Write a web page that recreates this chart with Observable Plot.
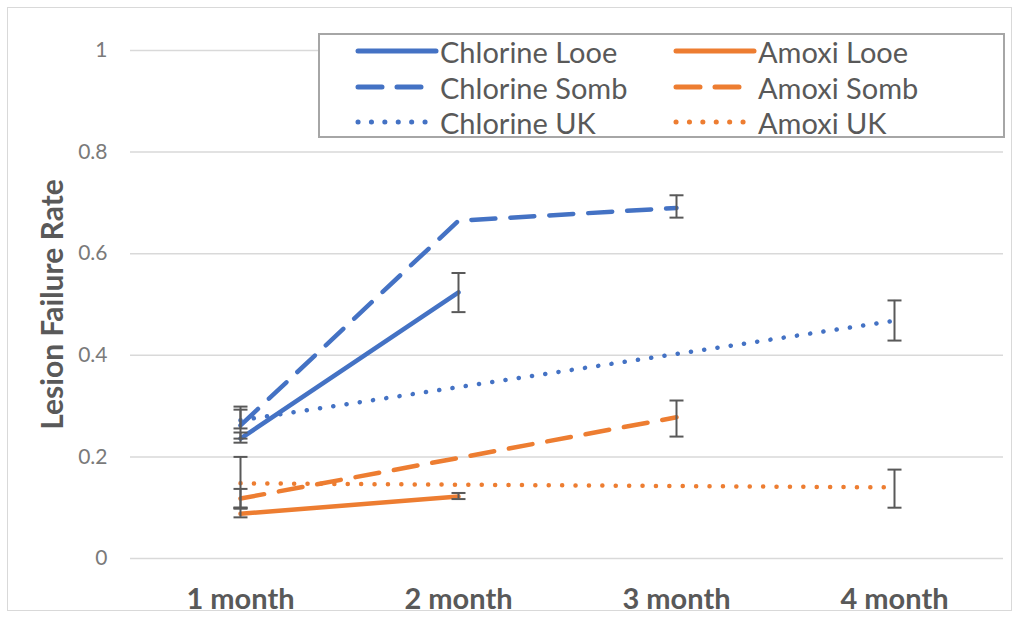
<!DOCTYPE html>
<html>
<head>
<meta charset="utf-8">
<script src="https://cdn.jsdelivr.net/npm/d3@7"></script>
<script src="https://cdn.jsdelivr.net/npm/@observablehq/plot@0.6"></script>
<style>
  html, body { margin: 0; padding: 0; background: #fff; }
  #wrap { position: relative; width: 1020px; height: 618px; overflow: hidden; font-family: Lato, "Open Sans", sans-serif; }
  #border { position: absolute; left: 7px; top: 7px; width: 1005px; height: 604px; border: 1px solid #d9d9d9; box-sizing: border-box; pointer-events: none; }
  #legend { position: absolute; left: 318px; top: 33px; width: 687px; height: 105px; border: 2px solid #a6a6a6; box-sizing: border-box; background: #fff; }
  .item { position: absolute; display: flex; align-items: center; height: 36px; font-size: 29px; color: #595959; white-space: nowrap; }
  .item svg { margin-right: 1px; }
</style>
</head>
<body>
<div id="wrap">
  <div id="chart"></div>
  <div id="border"></div>
  <div id="legend"></div>
</div>
<script>
// ---- data ----
const months = ["1 month", "2 month", "3 month", "4 month"];
const yTicks = [0, 0.2, 0.4, 0.6, 0.8, 1];
const yLabel = "Lesion Failure Rate";
const seriesNames = ["Chlorine Looe", "Chlorine Somb", "Chlorine UK", "Amoxi Looe", "Amoxi Somb", "Amoxi UK"];

const chlorineLooe     = [0.236, 0.524, null, null];
const chlorineLooeLow  = [0.228, 0.485, null, null];
const chlorineLooeHigh = [0.248, 0.562, null, null];

const chlorineSomb     = [0.262, 0.665, 0.690, null];
const chlorineSombLow  = [0.236, null, 0.671, null];
const chlorineSombHigh = [0.299, null, 0.715, null];

const chlorineUK       = [0.272, null, null, 0.468];
const chlorineUKLow    = [0.256, null, null, 0.429];
const chlorineUKHigh   = [0.293, null, null, 0.508];

const amoxiLooe        = [0.088, 0.122, null, null];
const amoxiLooeLow     = [0.081, 0.117, null, null];
const amoxiLooeHigh    = [0.098, 0.129, null, null];

const amoxiSomb        = [0.118, null, 0.278, null];
const amoxiSombLow     = [0.100, null, 0.240, null];
const amoxiSombHigh    = [0.137, null, 0.311, null];

const amoxiUK          = [0.148, null, null, 0.140];
const amoxiUKLow       = [0.100, null, null, 0.100];
const amoxiUKHigh      = [0.200, null, null, 0.175];

// ---- styles ----
const BLUE = "#4472C4", ORANGE = "#ED7D31";
const styleOf = {
  "Chlorine Looe": {stroke: BLUE, dash: null},
  "Chlorine Somb": {stroke: BLUE, dash: "24,15"},
  "Chlorine UK":   {stroke: BLUE, dash: "0.1,13.3"},
  "Amoxi Looe":    {stroke: ORANGE, dash: null},
  "Amoxi Somb":    {stroke: ORANGE, dash: "24,15"},
  "Amoxi UK":      {stroke: ORANGE, dash: "0.1,13.3"}
};

const seriesValues = [chlorineLooe, chlorineSomb, chlorineUK, amoxiLooe, amoxiSomb, amoxiUK];
const seriesLow = [chlorineLooeLow, chlorineSombLow, chlorineUKLow, amoxiLooeLow, amoxiSombLow, amoxiUKLow];
const seriesHigh = [chlorineLooeHigh, chlorineSombHigh, chlorineUKHigh, amoxiLooeHigh, amoxiSombHigh, amoxiUKHigh];

const points = [];
const errs = [];
seriesNames.forEach((name, i) => {
  months.forEach((m, j) => {
    if (seriesValues[i][j] != null) points.push({series: name, month: m, value: seriesValues[i][j]});
    if (seriesLow[i][j] != null) errs.push({series: name, month: m, low: seriesLow[i][j], high: seriesHigh[i][j]});
  });
});

const lineMarks = seriesNames.map(name => Plot.line(points.filter(d => d.series === name), {
  x: "month", y: "value",
  stroke: styleOf[name].stroke,
  strokeWidth: 4.5,
  strokeDasharray: styleOf[name].dash,
  strokeLinecap: "round",
  strokeLinejoin: "round"
}));

// horizontal cap symbol for error bars
const capSymbol = {
  draw(context, size) {
    const r = Math.sqrt(size / Math.PI);
    context.moveTo(-r, 0);
    context.lineTo(r, 0);
  }
};

const ERR = "#595959";
const chart = Plot.plot({
  width: 1020,
  height: 618,
  marginTop: 50,
  marginBottom: 60,
  marginLeft: 130,
  marginRight: 17,
  style: {fontFamily: "Lato, 'Open Sans', sans-serif", color: "#595959", background: "transparent"},
  x: {type: "point", domain: months, padding: 0.5},
  y: {domain: [0, 1]},
  marks: [
    Plot.ruleY(yTicks, {stroke: "#d9d9d9", strokeWidth: 1.5}),
    Plot.axisY(yTicks, {tickSize: 0, tickPadding: 23, fontSize: 21, tickFormat: d => String(d), label: null, fill: "#7a7a7a"}),
    Plot.axisX({tickSize: 0, tickPadding: 30, fontSize: 29, fontWeight: "bold", label: null, fill: "#595959"}),
    Plot.text([yLabel], {text: d => d, frameAnchor: "left", textAnchor: "middle", rotate: -90, dx: -77, dy: 0, fontSize: 30, fontWeight: "bold", fill: "#595959"}),
    ...lineMarks,
    Plot.ruleX(errs, {x: "month", y1: "low", y2: "high", stroke: ERR, strokeWidth: 2}),
    Plot.dot(errs, {x: "month", y: "low", symbol: capSymbol, r: 7, stroke: ERR, strokeWidth: 2, fill: "none"}),
    Plot.dot(errs, {x: "month", y: "high", symbol: capSymbol, r: 7, stroke: ERR, strokeWidth: 2, fill: "none"})
  ]
});
document.getElementById("chart").appendChild(chart);

// ---- legend ----
const legend = document.getElementById("legend");
const legendOrder = [["Chlorine Looe", "Amoxi Looe"], ["Chlorine Somb", "Amoxi Somb"], ["Chlorine UK", "Amoxi UK"]];
const colLeft = [35, 353];
const rowTop = [-2, 34, 69];
legendOrder.forEach((row, r) => {
  row.forEach((name, c) => {
    const it = document.createElement("div");
    it.className = "item";
    it.style.left = colLeft[c] + "px";
    it.style.top = rowTop[r] + "px";
    const st = styleOf[name];
    const svg = d3.create("svg").attr("width", 84).attr("height", 12);
    svg.append("line").attr("x1", 3).attr("x2", 81).attr("y1", 6).attr("y2", 6)
      .attr("stroke", st.stroke).attr("stroke-width", 5).attr("stroke-linecap", "round")
      .attr("stroke-dasharray", st.dash);
    it.appendChild(svg.node());
    const t = document.createElement("span");
    t.textContent = name;
    it.appendChild(t);
    legend.appendChild(it);
  });
});
</script>
</body>
</html>
